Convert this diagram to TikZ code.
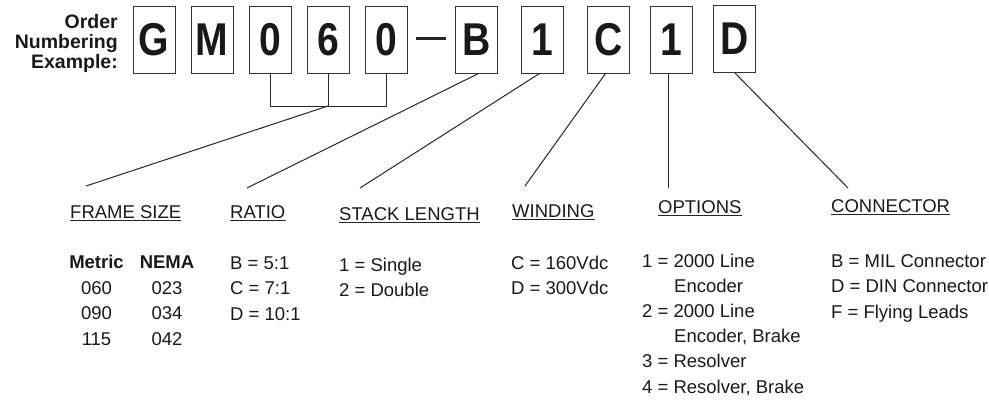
\documentclass[tikz,border=0pt]{standalone}
\usepackage{fontspec}
\setmainfont{Liberation Sans}
\begin{document}
\begin{tikzpicture}[x=1pt,y=-1pt,
  ink/.style={draw=black!85, line width=1pt},
  digitbox/.style={draw=black!80, line width=1pt, minimum width=42pt, minimum height=67pt, inner sep=0pt,
    font=\fontsize{46}{46}\selectfont\bfseries, text=black!90},
  lbl/.style={inner sep=0pt, anchor=base west, text=black!90, font=\fontsize{18.5}{25.5}\selectfont},
  hdr/.style={lbl},
  lst/.style={lbl, align=left},
]
\useasboundingbox (0,0) rectangle (989,400);

% title (anchor at baseline of last line)
\node[inner sep=0pt, anchor=base east, align=right, text=black!90,
  font=\fontsize{19.5}{20}\selectfont\bfseries] (title) at (118,68) {Order\\Numbering\\Example:};

% code boxes
\node[digitbox] (bG)  at (154,39.5) {\scalebox{0.85}[1]{G}};
\node[digitbox] (bM)  at (212,39.5) {\scalebox{0.85}[1]{M}};
\node[digitbox] (b0a) at (270.5,39.5) {\scalebox{0.85}[1]{0}};
\node[digitbox] (b6)  at (328,39.5) {\scalebox{0.85}[1]{6}};
\node[digitbox] (b0b) at (386,39.5) {\scalebox{0.85}[1]{0}};
\node[digitbox] (bB)  at (476.5,39.5) {\scalebox{0.85}[1]{B}};
\node[digitbox] (b1a) at (542.5,39.5) {\scalebox{0.85}[1]{1}};
\node[digitbox] (bC)  at (608.5,39.5) {\scalebox{0.85}[1]{C}};
\node[digitbox] (b1b) at (671,39.5) {\scalebox{0.85}[1]{1}};
\node[digitbox] (bD)  at (734.5,38.5) {\scalebox{0.85}[1]{D}};

% dash
\coordinate (dl) at (416,38.5);
\coordinate (dr) at (446,38.5);
\draw[black!85, line width=2.8pt] (dl) -- (dr);

% bracket
\coordinate (brL) at (270.5,106);
\coordinate (brM) at (328,106);
\coordinate (brR) at (386,106);
\draw[ink] (b0a.south) -- (brL) -- (brR) -- (b0b.south);
\draw[ink] (b6.south) -- (brM);

% free ends
\coordinate (e1) at (86,186);
\coordinate (e2) at (247,188);
\coordinate (e3) at (360,188);
\coordinate (e4) at (525,186);
\coordinate (e5) at (668,188);
\coordinate (e6) at (848,188);

\draw[ink] (brM) -- (e1);
\draw[ink] ([xshift=2pt]bB.south) -- (e2);
\draw[ink] ([xshift=-3pt]b1a.south) -- (e3);
\draw[ink] ([xshift=-3pt]bC.south) -- (e4);
\draw[ink] ([xshift=-3pt]b1b.south) -- (e5);
\draw[ink] (bD.south) -- (e6);

% headers
\node[hdr] (hFS) at (70,218) {FRAME SIZE};
\node[hdr] (hR)  at (230,218) {RATIO};
\node[hdr] (hSL) at (339,220) {STACK LENGTH};
\node[hdr] (hW)  at (512,217) {WINDING};
\node[hdr] (hO)  at (658,213) {OPTIONS};
\node[hdr] (hC)  at (831,212) {CONNECTOR};
\foreach \h in {hFS,hR,hSL,hW,hO,hC}
  \draw[black!85, line width=0.9pt] ([yshift=-2.5pt]\h.base west) -- ([yshift=-2.5pt]\h.base east);

% lists (anchored at the baseline of their last line)
\node[lbl, align=center, anchor=base] (fsm) at (96.5,345) {\textbf{Metric}\\060\\090\\115};
\node[lbl, align=center, anchor=base] (fsn) at (167,345) {\textbf{NEMA}\\023\\034\\042};
\node[lst] (lR) at (230,320) {B = 5:1\\C = 7:1\\D = 10:1};
\node[lst] (lSL) at (339,296.5) {1 = Single\\2 = Double};
\node[lst] (lW) at (511,294.5) {C = 160Vdc\\D = 300Vdc};
\node[lst, font=\fontsize{18.5}{25.2}\selectfont] (lO) at (642,393) {1 = 2000 Line\\\hspace*{32pt}Encoder\\2 = 2000 Line\\\hspace*{32pt}Encoder, Brake\\3 = Resolver\\4 = Resolver, Brake};
\node[lst] (lC) at (831,318) {B = MIL Connector\\D = DIN Connector\\F = Flying Leads};
\end{tikzpicture}
\end{document}
